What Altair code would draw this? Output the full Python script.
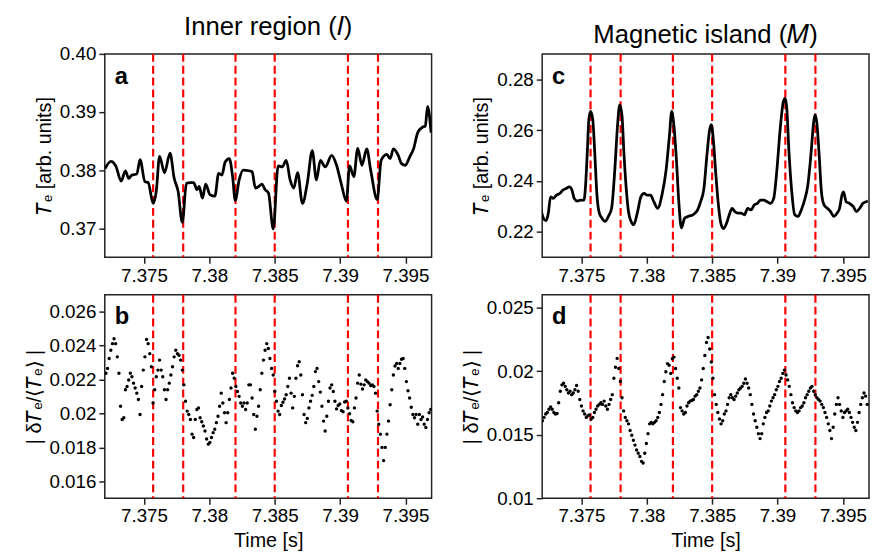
import altair as alt
import pandas as pd

FONT = "Liberation Sans"
XDOM = [7.372, 7.397]
XTICKS = [7.375, 7.38, 7.385, 7.39, 7.395]
W, H = 331, 206

red_times = [7.3757, 7.3780, 7.3820, 7.3850, 7.3906, 7.3929]

# Panel a: Te, inner region
a_t = [7.37202, 7.37247, 7.37284, 7.37326, 7.37358, 7.37383, 7.37408, 7.37445, 7.3747, 7.37507,
       7.37532, 7.3757, 7.37594, 7.37619, 7.37657, 7.37699, 7.37731, 7.37761, 7.37793, 7.37825,
       7.37855, 7.3788, 7.37905, 7.37922, 7.37947, 7.37972, 7.38004, 7.38042, 7.38071, 7.38096,
       7.38121, 7.38153, 7.38178, 7.38198, 7.38228, 7.38258, 7.38302, 7.38327, 7.38352, 7.38377,
       7.38402, 7.38427, 7.38452, 7.38489, 7.38526, 7.38558, 7.38588, 7.38618, 7.38645, 7.38675,
       7.38712, 7.3875, 7.38787, 7.38819, 7.38849, 7.38886, 7.38936, 7.38973, 7.39011, 7.39048,
       7.39073, 7.39105, 7.39135, 7.39167, 7.39204, 7.39234, 7.39284, 7.39314, 7.39358, 7.39383,
       7.39408, 7.39445, 7.3947, 7.395, 7.39532, 7.39562, 7.39594, 7.39632, 7.39652, 7.39669,
       7.39696]
a_v = [0.38028, 0.38152, 0.38073, 0.3781, 0.37989, 0.3786, 0.37916, 0.37933, 0.3818, 0.37803,
       0.37787, 0.37427, 0.37635, 0.38236, 0.37955, 0.38292, 0.3786, 0.37635, 0.37101, 0.37775,
       0.37787, 0.37787, 0.37663, 0.37719, 0.37517, 0.37758, 0.37579, 0.37551, 0.37944, 0.37916,
       0.3814, 0.38197, 0.37888, 0.37478, 0.37831, 0.38, 0.37989, 0.37972, 0.37691, 0.37719,
       0.37758, 0.37663, 0.37607, 0.36989, 0.38073, 0.38056, 0.38169, 0.37831, 0.37691, 0.37955,
       0.37427, 0.37787, 0.38337, 0.37831, 0.38169, 0.38056, 0.38253, 0.38084, 0.37747, 0.37466,
       0.38073, 0.37888, 0.38376, 0.38084, 0.38365, 0.38, 0.37494, 0.38169, 0.3827, 0.38197,
       0.38365, 0.38253, 0.38112, 0.38084, 0.38225, 0.38365, 0.38646, 0.38742, 0.38758, 0.39096,
       0.38646]

# Panel c: Te, magnetic island
c_t = [7.37189, 7.37209, 7.37229, 7.37247, 7.37264, 7.37284, 7.37309, 7.37334, 7.37358, 7.37383,
       7.37408, 7.37428, 7.37445, 7.3747, 7.37495, 7.3752, 7.37532, 7.37545, 7.37557, 7.3757,
       7.37587, 7.37602, 7.37619, 7.37637, 7.37657, 7.37681, 7.37706, 7.37731, 7.37756, 7.37776,
       7.37793, 7.37811, 7.37825, 7.37843, 7.3786, 7.3788, 7.379, 7.3793, 7.37955, 7.3798,
       7.38004, 7.38029, 7.38054, 7.38084, 7.38116, 7.38149, 7.38173, 7.38191, 7.38208, 7.38228,
       7.38245, 7.38265, 7.3829, 7.38315, 7.38352, 7.38389, 7.38412, 7.38437, 7.38462, 7.38481,
       7.38494, 7.38511, 7.38529, 7.38548, 7.38566, 7.38586, 7.38611, 7.38635, 7.38653, 7.38673,
       7.38698, 7.38722, 7.38747, 7.38772, 7.38797, 7.38822, 7.38847, 7.38871, 7.38896, 7.38921,
       7.38946, 7.38971, 7.38996, 7.3902, 7.39045, 7.39058, 7.3907, 7.39088, 7.39107, 7.39132,
       7.39157, 7.39182, 7.39207, 7.39232, 7.39257, 7.39276, 7.39286, 7.39301, 7.39319, 7.39336,
       7.39356, 7.39381, 7.39406, 7.3943, 7.39455, 7.39475, 7.39493, 7.39505, 7.39525, 7.3955,
       7.3958, 7.39604, 7.39629, 7.39654, 7.39679, 7.39691]
c_v = [0.22929, 0.22542, 0.22439, 0.22735, 0.23381, 0.23316, 0.23445, 0.2351, 0.23639, 0.23703,
       0.23768, 0.23639, 0.23316, 0.23213, 0.23252, 0.23252, 0.23832, 0.25123, 0.26413, 0.26735,
       0.26413, 0.25123, 0.23445, 0.22735, 0.22542, 0.22413, 0.22606, 0.22929, 0.24477, 0.26155,
       0.26994, 0.26542, 0.25123, 0.23703, 0.228, 0.22413, 0.22284, 0.228, 0.23381, 0.2351,
       0.23445, 0.23445, 0.23187, 0.22929, 0.23445, 0.24477, 0.25768, 0.26735, 0.26155, 0.24735,
       0.23187, 0.22155, 0.22542, 0.22606, 0.22671, 0.22865, 0.23187, 0.23703, 0.25123, 0.26026,
       0.26219, 0.2551, 0.24219, 0.23058, 0.22348, 0.22129, 0.22348, 0.22735, 0.22929, 0.228,
       0.22735, 0.22735, 0.22671, 0.22929, 0.22865, 0.23058, 0.23123, 0.23252, 0.23252, 0.23187,
       0.23123, 0.23316, 0.24477, 0.26026, 0.27123, 0.27252, 0.26929, 0.25123, 0.23703, 0.22671,
       0.22606, 0.22865, 0.23252, 0.23832, 0.25123, 0.26284, 0.26606, 0.26284, 0.24994, 0.23574,
       0.23058, 0.22929, 0.228, 0.22606, 0.22735, 0.22929, 0.23445, 0.23574, 0.23187, 0.23123,
       0.22994, 0.228, 0.22929, 0.23123, 0.23187, 0.23213]

# Panel b: |dTe/<Te>|, inner region (sampled every dt from b_t0)
b_t0, b_dt = 7.37209, 0.00012422
b_v = [0.02237, 0.02266, 0.02324, 0.02373, 0.02412, 0.02441, 0.02412, 0.02334, 0.02237, 0.02043,
       0.01965, 0.01975, 0.0214, 0.02159, 0.02198, 0.02237, 0.02217, 0.02179, 0.0215, 0.0212,
       0.02082, 0.01994, 0.02159, 0.02256, 0.02334, 0.02437, 0.02412, 0.02353, 0.02276, 0.02062,
       0.0214, 0.02217, 0.02256, 0.02315, 0.02256, 0.02217, 0.0214, 0.02082, 0.0214, 0.02179,
       0.02227, 0.02276, 0.02334, 0.02373, 0.02353, 0.02344, 0.02315, 0.02256, 0.02169, 0.02072,
       0.02014, 0.01994, 0.01965, 0.01878, 0.01858, 0.01965, 0.02023, 0.02033, 0.01975, 0.01951,
       0.01926, 0.01897, 0.01849, 0.01819, 0.01829, 0.01858, 0.01887, 0.01907, 0.01946, 0.01984,
       0.02043, 0.0212, 0.02062, 0.02004, 0.01946, 0.02004, 0.02082, 0.0215, 0.02237, 0.02208,
       0.02159, 0.0213, 0.02101, 0.02062, 0.02043, 0.02062, 0.02023, 0.02062, 0.02169, 0.02169,
       0.02091, 0.01994, 0.01907, 0.01984, 0.02043, 0.0214, 0.02237, 0.02315, 0.02373, 0.02412,
       0.02383, 0.02324, 0.02266, 0.02227, 0.0213, 0.02072, 0.02014, 0.01994, 0.02047, 0.02066,
       0.02085, 0.02111, 0.02159, 0.02208, 0.0212, 0.02033, 0.02101, 0.02208, 0.02282, 0.02305,
       0.02227, 0.02111, 0.01994, 0.01946, 0.01971, 0.02033, 0.02072, 0.02107, 0.02159, 0.02247,
       0.02266, 0.02188, 0.02126, 0.02043, 0.01955, 0.01897, 0.01984, 0.02072, 0.0215, 0.02169,
       0.0213, 0.02072, 0.02027, 0.02047, 0.02056, 0.02017, 0.0201, 0.02068, 0.02072, 0.02033,
       0.01998, 0.01959, 0.01951, 0.02033, 0.02091, 0.02179, 0.02227, 0.02173, 0.02144, 0.02169,
       0.02198, 0.02188, 0.02179, 0.02165, 0.02169, 0.02159, 0.0212, 0.02014, 0.01936, 0.01878,
       0.018, 0.01722, 0.018, 0.01878, 0.01955, 0.02052, 0.0214, 0.02227, 0.0228, 0.02295,
       0.02266, 0.02295, 0.0232, 0.02324, 0.02266, 0.02188, 0.02134, 0.02091, 0.02037, 0.01994,
       0.01975, 0.01994, 0.01936, 0.01994, 0.01965, 0.01979, 0.01936, 0.01917, 0.01965, 0.02004,
       0.02023]

# Panel d: |dTe/<Te>|, magnetic island
d_t0, d_dt = 7.37202, 0.00012422
d_v = [0.0161, 0.01636, 0.01662, 0.01674, 0.017, 0.01718, 0.017, 0.01674, 0.01662, 0.01667,
       0.01751, 0.01841, 0.01892, 0.01905, 0.0188, 0.01854, 0.01828, 0.01841, 0.01815, 0.01828,
       0.01854, 0.01887, 0.01841, 0.01777, 0.01726, 0.01687, 0.01662, 0.01636, 0.01649, 0.01656,
       0.01623, 0.01636, 0.01674, 0.017, 0.01726, 0.01738, 0.01751, 0.01738, 0.01764, 0.01726,
       0.017, 0.01738, 0.01777, 0.01815, 0.01944, 0.0203, 0.0210, 0.0202, 0.01918, 0.0179,
       0.01687, 0.01636, 0.0161, 0.01585, 0.01533, 0.01495, 0.01456, 0.01418, 0.0138, 0.01354,
       0.01328, 0.0129, 0.01277, 0.01354, 0.01431, 0.01508, 0.01585, 0.01597, 0.01585, 0.01597,
       0.0161, 0.01636, 0.01674, 0.01738, 0.01815, 0.01918, 0.01995, 0.02059, 0.02046, 0.01982,
       0.02097, 0.0211, 0.0202, 0.01944, 0.01867, 0.01713, 0.01687, 0.01662, 0.01674, 0.01726,
       0.01751, 0.01764, 0.01769, 0.01777, 0.01803, 0.01815, 0.01841, 0.01867, 0.01931, 0.0202,
       0.02123, 0.02226, 0.02264, 0.02174, 0.02072, 0.01944, 0.01815, 0.01738, 0.01674, 0.01623,
       0.01585, 0.0161, 0.01662, 0.01687, 0.01738, 0.0179, 0.01815, 0.0179, 0.01777, 0.01803,
       0.01828, 0.01854, 0.01867, 0.0188, 0.01905, 0.01938, 0.01905, 0.01867, 0.01815, 0.01738,
       0.01662, 0.0161, 0.01559, 0.01508, 0.01469, 0.01508, 0.01585, 0.01636, 0.01674, 0.01687,
       0.01726, 0.01764, 0.0179, 0.01815, 0.01854, 0.0188, 0.01918, 0.01944, 0.01982, 0.02008,
       0.01969, 0.01931, 0.0188, 0.01815, 0.01751, 0.01713, 0.01687, 0.01674, 0.01687, 0.01713,
       0.01726, 0.01751, 0.0179, 0.01815, 0.01841, 0.01867, 0.0188, 0.01841, 0.01815, 0.0179,
       0.01777, 0.01764, 0.01738, 0.01713, 0.01674, 0.01636, 0.01585, 0.01533, 0.01469, 0.01559,
       0.01662, 0.01738, 0.0179, 0.01738, 0.01687, 0.01636, 0.01674, 0.01687, 0.017, 0.01674,
       0.01636, 0.01597, 0.01559, 0.01533, 0.01597, 0.01674, 0.01738, 0.0179, 0.01828, 0.01803,
       0.01738]

b_t = [round(b_t0 + i * b_dt, 6) for i in range(len(b_v))]
d_t = [round(d_t0 + i * d_dt, 6) for i in range(len(d_v))]

red_df = pd.DataFrame({"t": red_times})
xscale = alt.Scale(domain=XDOM, nice=False, zero=False)


def panel(df, kind, ydom, yticks, yfmt, ytitle, letter, xtitle, title=None):
    x = alt.X("t:Q", scale=xscale,
              axis=alt.Axis(values=XTICKS, format=".4~f", title=xtitle))
    y = alt.Y("v:Q", scale=alt.Scale(domain=ydom, nice=False, zero=False),
              axis=alt.Axis(values=yticks, format=yfmt, title=ytitle))
    if kind == "line":
        data = alt.Chart(df).mark_line(color="black", strokeWidth=2.8, clip=True,
                                       interpolate="monotone").encode(x=x, y=y)
    else:
        data = alt.Chart(df).mark_circle(color="black", size=12, opacity=1, clip=True).encode(x=x, y=y)
    rules = alt.Chart(red_df).mark_rule(color="#ff0000", strokeDash=[8, 4], strokeWidth=2.2).encode(
        x=alt.X("t:Q", scale=xscale))
    lab = alt.Chart(pd.DataFrame({"l": [letter]})).mark_text(
        align="left", baseline="top", fontSize=24, fontWeight="bold", font=FONT, color="black"
    ).encode(x=alt.value(10), y=alt.value(11), text="l:N")
    ch = alt.layer(rules, data, lab).properties(width=W, height=H)
    if title:
        ch = ch.properties(title=alt.TitleParams(title, fontSize=26, font=FONT, fontWeight="normal",
                                                 anchor="middle", offset=5, color="black"))
    return ch


dfa = pd.DataFrame({"t": a_t, "v": a_v})
dfb = pd.DataFrame({"t": b_t, "v": b_v})
dfc = pd.DataFrame({"t": c_t, "v": c_v})
dfd = pd.DataFrame({"t": d_t, "v": d_v})

ty = "\U0001D447\u2091 [arb. units]"
tdy = "| \u03b4\U0001D447\u2091/\u27e8\U0001D447\u2091\u27e9 |"

pa = panel(dfa, "line", [0.365, 0.40], [0.37, 0.38, 0.39, 0.40], ".2f", ty, "a", None,
           "Inner region (\U0001D43C)")
pc = panel(dfc, "line", [0.21, 0.29], [0.22, 0.24, 0.26, 0.28], ".2f", ty, "c", None,
           "Magnetic island (\U0001D440)")
pb = panel(dfb, "dots", [0.015, 0.027], [0.016, 0.018, 0.02, 0.022, 0.024, 0.026], ".3~f", tdy, "b",
           "Time [s]")
pd_ = panel(dfd, "dots", [0.01, 0.026], [0.01, 0.015, 0.02, 0.025], ".3~f", tdy, "d", "Time [s]")

chart = alt.concat(pa, pc, pb, pd_, columns=2, spacing={"row": 7, "column": 28}).properties(
    padding={"left": 15, "top": 2, "right": 0, "bottom": 0}
).configure_view(
    stroke="#222222", strokeWidth=1.5
).configure_axis(
    labelFont=FONT, labelFontSize=19, labelColor="black", titleFont=FONT, titleFontSize=20,
    titleFontWeight="normal", titleColor="black", domain=False, grid=False, ticks=True,
    tickColor="#222222", tickSize=6, tickWidth=1.5, labelPadding=3, titlePadding=5
)

chart.save("out.html", embed_options={"renderer": "svg", "actions": False})
